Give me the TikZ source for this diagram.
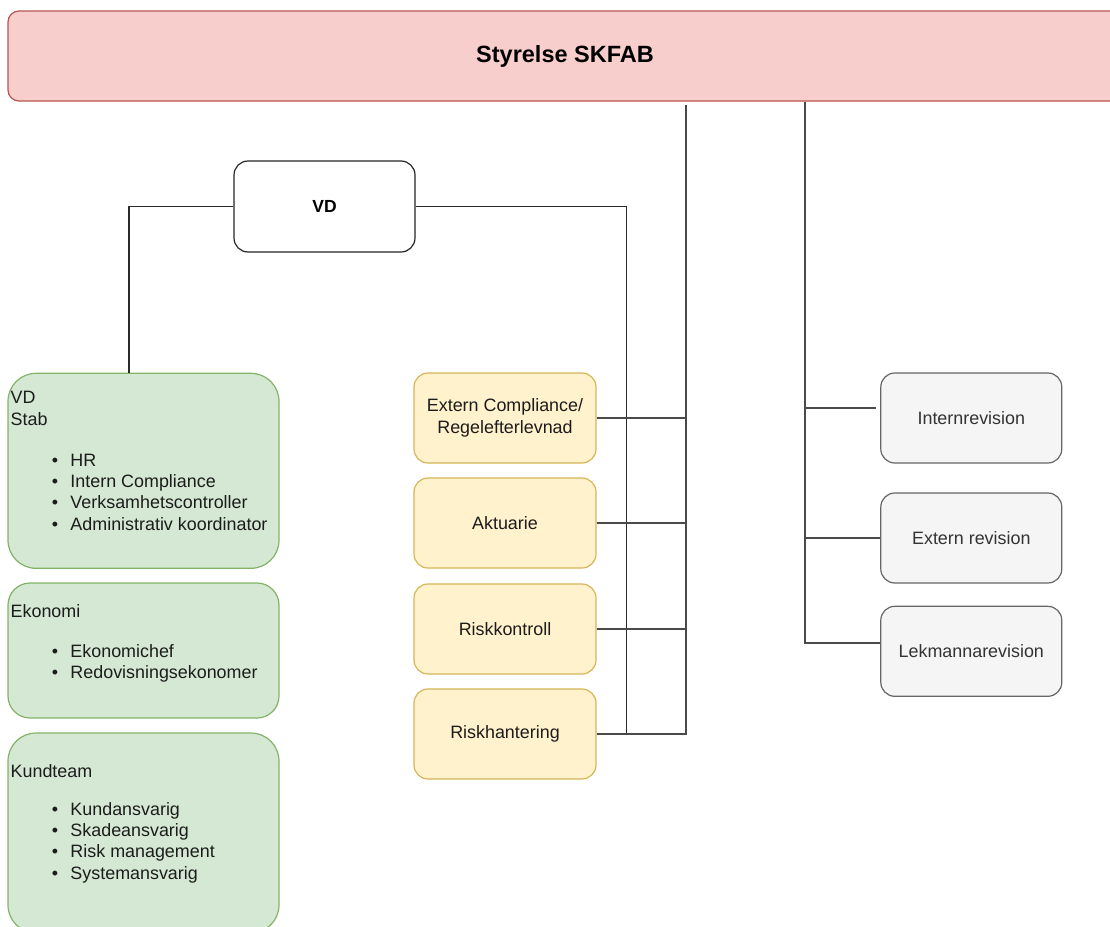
\documentclass[tikz,border=0pt]{standalone}
\usepackage{fontspec}
\setmainfont{Liberation Sans}
\usetikzlibrary{calc}
\definecolor{redfill}{HTML}{F8CECC}
\definecolor{redline}{HTML}{B85450}
\definecolor{greenfill}{HTML}{D5E8D4}
\definecolor{greenline}{HTML}{82B366}
\definecolor{yelfill}{HTML}{FFF2CC}
\definecolor{yelline}{HTML}{D6B656}
\definecolor{grayfill}{HTML}{F5F5F5}
\definecolor{grayline}{HTML}{666666}
\definecolor{graytext}{HTML}{333333}
\definecolor{wire}{HTML}{2A2A2A}
\definecolor{bodytext}{HTML}{1C1C1C}
\newcommand\diafont{\fontsize{17.9}{21.4}\selectfont}
\begin{document}
\begin{tikzpicture}[x=1pt,y=-1pt,
  basebox/.style={rectangle, inner sep=0pt, align=center, line width=1.2pt, font=\diafont, text=bodytext},
  topbox/.style={basebox, draw=redline, fill=redfill, minimum width=1114pt, minimum height=90pt, rounded corners=11pt, text=black, font=\fontsize{23.5}{27}\selectfont\bfseries},
  vdbox/.style={basebox, draw=black!85, fill=white, minimum width=181pt, minimum height=91pt, rounded corners=14pt, text=black, font=\fontsize{17.5}{21}\selectfont\bfseries},
  greenbox/.style={basebox, draw=greenline, fill=greenfill, minimum width=271pt},
  yelbox/.style={basebox, draw=yelline, fill=yelfill, minimum width=182pt, minimum height=90pt, rounded corners=14pt},
  graybox/.style={basebox, draw=grayline, fill=grayfill, text=graytext, minimum width=181pt, minimum height=90pt, rounded corners=14pt},
  gtext/.style={anchor=base west, inner sep=0pt, font=\diafont, text=bodytext},
  vdwire/.style={draw=wire, line width=1.2pt},
  topwire/.style={draw=wire!85, line width=1.4pt}
]
\useasboundingbox (0,0) rectangle (1110,926);
\clip (0,0) rectangle (1110,926);

% boxes
\node[topbox] (top) at (565,56) {Styrelse SKFAB};
\node[vdbox] (vd) at (324.5,206.5) {VD};

\node[greenbox, minimum height=195pt, rounded corners=28pt] (stab) at (143.5,470.8) {};
\node[greenbox, minimum height=135pt, rounded corners=22pt] (eko) at (143.5,650.5) {};
\node[greenbox, minimum height=200pt, rounded corners=28pt] (kund) at (143.5,833) {};

\node[yelbox] (ec) at (505,418) {Extern Compliance/\\Regelefterlevnad};
\node[yelbox] (ak) at (505,523) {Aktuarie};
\node[yelbox] (rk) at (505,629) {Riskkontroll};
\node[yelbox] (rh) at (505,734) {Riskhantering};

\node[graybox] (ir) at (971.3,418) {Internrevision};
\node[graybox] (er) at (971.3,538) {Extern revision};
\node[graybox] (lm) at (971.3,651.3) {Lekmannarevision};

% texts of green boxes
\node[gtext] (stab-h1) at (10.5,403) {VD};
\node[gtext] (stab-h2) at (10.5,425) {Stab};
\foreach \t [count=\i] in {HR, Intern Compliance, Verksamhetscontroller, Administrativ koordinator}
  \node[gtext] (stab-i\i) at (51.6,{466+21.4*(\i-1)}) {\makebox[18.7pt][l]{\textbullet}\t};

\node[gtext] (eko-h) at (10.5,617) {Ekonomi};
\foreach \t [count=\i] in {Ekonomichef, Redovisningsekonomer}
  \node[gtext] (eko-i\i) at (51.6,{657.3+21.4*(\i-1)}) {\makebox[18.7pt][l]{\textbullet}\t};

\node[gtext] (kund-h) at (10.5,777) {Kundteam};
\foreach \t [count=\i] in {Kundansvarig, Skadeansvarig, Risk management, Systemansvarig}
  \node[gtext] (kund-i\i) at (51.6,{815+21.4*(\i-1)}) {\makebox[18.7pt][l]{\textbullet}\t};

% connectors from VD
\draw[vdwire] (vd.west) -| ([xshift=-14.5pt]stab.north);
\draw[vdwire] (vd.east) -| ([xshift=30pt]rh.east) -- (rh.east);

% trunk from Styrelse to the yellow boxes
\coordinate (t1) at (686,734);
\draw[topwire] ([yshift=-3pt]top.south -| t1) -- (t1) -- (rh.east);
\draw[topwire] (ec.east) -- (ec.east -| t1);
\draw[topwire] (ak.east) -- (ak.east -| t1);
\draw[topwire] (rk.east) -- (rk.east -| t1);

% trunk from Styrelse to the audit boxes
\coordinate (t2) at (805,643);
\coordinate (irj) at ($(ir.west)+(-4,-10)$);
\coordinate (lmj) at ($(lm.west)+(0,-8.3)$);
\draw[topwire] (top.south -| t2) -- (t2) -- (lmj);
\draw[topwire] (irj -| t2) -- (irj);
\draw[topwire] (er.west -| t2) -- (er.west);
\end{tikzpicture}
\end{document}
